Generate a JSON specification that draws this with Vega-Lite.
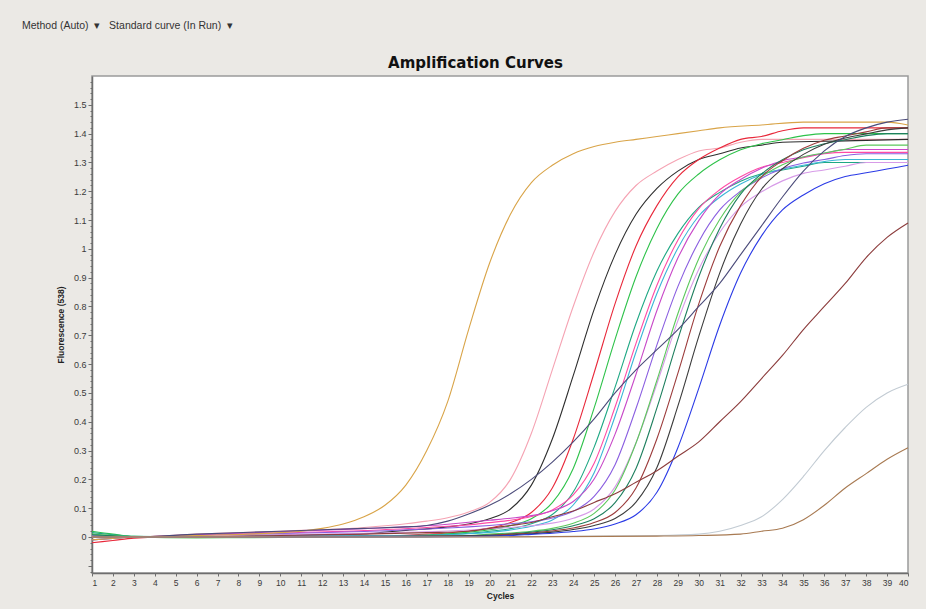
{
 "$schema": "https://vega.github.io/schema/vega-lite/v6.json",
 "width": 816,
 "height": 497,
 "autosize": {"type": "none"},
 "padding": {"left": 92, "top": 76, "right": 18, "bottom": 36},
 "background": "#ebe9e5",
 "title": {"text": "Method (Auto)\u00a0\u00a0\u25be\u00a0\u00a0\u00a0Standard curve (In Run)\u00a0\u00a0\u25be", "anchor": "start", "frame": "group", "dx": -70, "offset": 24, "font": "Liberation Sans", "fontSize": 10.5, "fontWeight": "normal", "color": "#333333"},
 "resolve": {"axis": {"y": "independent"}},
 "datasets": {
  "main": [
{"s":"a","c":1,"v":0.005},{"s":"a","c":2,"v":0.003},{"s":"a","c":3,"v":0},{"s":"a","c":6,"v":0.01},{"s":"a","c":10,"v":0.02},{"s":"a","c":14,"v":0.033},{"s":"a","c":15,"v":0.039},{"s":"a","c":16,"v":0.046},{"s":"a","c":17,"v":0.055},{"s":"a","c":18,"v":0.067},{"s":"a","c":19,"v":0.087},{"s":"a","c":20,"v":0.12},{"s":"a","c":21,"v":0.2},{"s":"a","c":22,"v":0.36},{"s":"a","c":23,"v":0.58},{"s":"a","c":24,"v":0.8},{"s":"a","c":25,"v":0.99},{"s":"a","c":26,"v":1.13},{"s":"a","c":27,"v":1.22},{"s":"a","c":28,"v":1.27},{"s":"a","c":29,"v":1.31},{"s":"a","c":30,"v":1.34},{"s":"a","c":31,"v":1.35},{"s":"a","c":32,"v":1.37},{"s":"a","c":33,"v":1.38},{"s":"a","c":36,"v":1.38},{"s":"a","c":40,"v":1.38},
{"s":"b","c":1,"v":0.005},{"s":"b","c":2,"v":0.003},{"s":"b","c":3,"v":0},{"s":"b","c":6,"v":0.003},{"s":"b","c":10,"v":0.007},{"s":"b","c":14,"v":0.011},{"s":"b","c":15,"v":0.017},{"s":"b","c":16,"v":0.023},{"s":"b","c":17,"v":0.028},{"s":"b","c":18,"v":0.035},{"s":"b","c":19,"v":0.045},{"s":"b","c":20,"v":0.063},{"s":"b","c":21,"v":0.097},{"s":"b","c":22,"v":0.18},{"s":"b","c":23,"v":0.34},{"s":"b","c":24,"v":0.56},{"s":"b","c":25,"v":0.79},{"s":"b","c":26,"v":0.98},{"s":"b","c":27,"v":1.12},{"s":"b","c":28,"v":1.21},{"s":"b","c":29,"v":1.27},{"s":"b","c":30,"v":1.31},{"s":"b","c":31,"v":1.33},{"s":"b","c":32,"v":1.35},{"s":"b","c":33,"v":1.36},{"s":"b","c":34,"v":1.37},{"s":"b","c":37,"v":1.375},{"s":"b","c":40,"v":1.38},
{"s":"c","c":1,"v":-0.02},{"s":"c","c":2,"v":-0.012},{"s":"c","c":3,"v":-0.004},{"s":"c","c":6,"v":0.002},{"s":"c","c":10,"v":0.003},{"s":"c","c":15,"v":0.003},{"s":"c","c":16,"v":0.006},{"s":"c","c":17,"v":0.01},{"s":"c","c":18,"v":0.014},{"s":"c","c":19,"v":0.021},{"s":"c","c":20,"v":0.031},{"s":"c","c":21,"v":0.05},{"s":"c","c":22,"v":0.085},{"s":"c","c":23,"v":0.17},{"s":"c","c":24,"v":0.34},{"s":"c","c":25,"v":0.57},{"s":"c","c":26,"v":0.81},{"s":"c","c":27,"v":1.01},{"s":"c","c":28,"v":1.15},{"s":"c","c":29,"v":1.25},{"s":"c","c":30,"v":1.31},{"s":"c","c":31,"v":1.35},{"s":"c","c":32,"v":1.38},{"s":"c","c":33,"v":1.39},{"s":"c","c":34,"v":1.41},{"s":"c","c":35,"v":1.42},{"s":"c","c":40,"v":1.42},
{"s":"d","c":1,"v":0.02},{"s":"d","c":2,"v":0.01},{"s":"d","c":3,"v":0.002},{"s":"d","c":6,"v":-0.002},{"s":"d","c":10,"v":0},{"s":"d","c":14,"v":0.001},{"s":"d","c":16,"v":0.004},{"s":"d","c":17,"v":0.007},{"s":"d","c":18,"v":0.011},{"s":"d","c":19,"v":0.017},{"s":"d","c":20,"v":0.025},{"s":"d","c":21,"v":0.039},{"s":"d","c":22,"v":0.063},{"s":"d","c":23,"v":0.119},{"s":"d","c":24,"v":0.238},{"s":"d","c":25,"v":0.448},{"s":"d","c":26,"v":0.686},{"s":"d","c":27,"v":0.903},{"s":"d","c":28,"v":1.071},{"s":"d","c":29,"v":1.19},{"s":"d","c":30,"v":1.26},{"s":"d","c":31,"v":1.309},{"s":"d","c":32,"v":1.344},{"s":"d","c":33,"v":1.365},{"s":"d","c":34,"v":1.379},{"s":"d","c":35,"v":1.393},{"s":"d","c":36,"v":1.4},{"s":"d","c":40,"v":1.4},
{"s":"e","c":1,"v":0.015},{"s":"e","c":2,"v":0.008},{"s":"e","c":3,"v":0.002},{"s":"e","c":6,"v":0},{"s":"e","c":10,"v":0},{"s":"e","c":14,"v":0.001},{"s":"e","c":16,"v":0.003},{"s":"e","c":17,"v":0.005},{"s":"e","c":18,"v":0.009},{"s":"e","c":19,"v":0.013},{"s":"e","c":20,"v":0.02},{"s":"e","c":21,"v":0.029},{"s":"e","c":22,"v":0.046},{"s":"e","c":23,"v":0.078},{"s":"e","c":24,"v":0.156},{"s":"e","c":25,"v":0.312},{"s":"e","c":26,"v":0.52},{"s":"e","c":27,"v":0.741},{"s":"e","c":28,"v":0.923},{"s":"e","c":29,"v":1.053},{"s":"e","c":30,"v":1.144},{"s":"e","c":31,"v":1.196},{"s":"e","c":32,"v":1.235},{"s":"e","c":33,"v":1.261},{"s":"e","c":34,"v":1.274},{"s":"e","c":35,"v":1.287},{"s":"e","c":36,"v":1.3},{"s":"e","c":40,"v":1.3},
{"s":"n","c":1,"v":0.005},{"s":"n","c":2,"v":0.003},{"s":"n","c":3,"v":0},{"s":"n","c":6,"v":0.002},{"s":"n","c":10,"v":0.004},{"s":"n","c":14,"v":0.005},{"s":"n","c":17,"v":0.006},{"s":"n","c":18,"v":0.008},{"s":"n","c":19,"v":0.011},{"s":"n","c":20,"v":0.016},{"s":"n","c":21,"v":0.024},{"s":"n","c":22,"v":0.037},{"s":"n","c":23,"v":0.059},{"s":"n","c":24,"v":0.111},{"s":"n","c":25,"v":0.223},{"s":"n","c":26,"v":0.419},{"s":"n","c":27,"v":0.642},{"s":"n","c":28,"v":0.845},{"s":"n","c":29,"v":1.002},{"s":"n","c":30,"v":1.114},{"s":"n","c":31,"v":1.179},{"s":"n","c":32,"v":1.225},{"s":"n","c":33,"v":1.258},{"s":"n","c":34,"v":1.277},{"s":"n","c":35,"v":1.29},{"s":"n","c":36,"v":1.303},{"s":"n","c":37,"v":1.31},{"s":"n","c":40,"v":1.31},
{"s":"o","c":1,"v":0.003},{"s":"o","c":2,"v":0.002},{"s":"o","c":3,"v":0},{"s":"o","c":6,"v":0.006},{"s":"o","c":10,"v":0.014},{"s":"o","c":14,"v":0.022},{"s":"o","c":17,"v":0.033},{"s":"o","c":18,"v":0.037},{"s":"o","c":19,"v":0.042},{"s":"o","c":20,"v":0.05},{"s":"o","c":21,"v":0.058},{"s":"o","c":22,"v":0.071},{"s":"o","c":23,"v":0.094},{"s":"o","c":24,"v":0.146},{"s":"o","c":25,"v":0.256},{"s":"o","c":26,"v":0.451},{"s":"o","c":27,"v":0.672},{"s":"o","c":28,"v":0.874},{"s":"o","c":29,"v":1.03},{"s":"o","c":30,"v":1.14},{"s":"o","c":31,"v":1.205},{"s":"o","c":32,"v":1.25},{"s":"o","c":33,"v":1.283},{"s":"o","c":34,"v":1.3},{"s":"o","c":35,"v":1.316},{"s":"o","c":36,"v":1.33},{"s":"o","c":37,"v":1.335},{"s":"o","c":40,"v":1.335},
{"s":"f","c":1,"v":0},{"s":"f","c":3,"v":0},{"s":"f","c":6,"v":0.008},{"s":"f","c":10,"v":0.018},{"s":"f","c":14,"v":0.029},{"s":"f","c":18,"v":0.044},{"s":"f","c":19,"v":0.051},{"s":"f","c":20,"v":0.058},{"s":"f","c":21,"v":0.065},{"s":"f","c":22,"v":0.074},{"s":"f","c":23,"v":0.091},{"s":"f","c":24,"v":0.123},{"s":"f","c":25,"v":0.201},{"s":"f","c":26,"v":0.357},{"s":"f","c":27,"v":0.565},{"s":"f","c":28,"v":0.786},{"s":"f","c":29,"v":0.968},{"s":"f","c":30,"v":1.098},{"s":"f","c":31,"v":1.189},{"s":"f","c":32,"v":1.241},{"s":"f","c":33,"v":1.28},{"s":"f","c":34,"v":1.306},{"s":"f","c":35,"v":1.319},{"s":"f","c":36,"v":1.332},{"s":"f","c":37,"v":1.345},{"s":"f","c":40,"v":1.345},
{"s":"g","c":1,"v":0.002},{"s":"g","c":2,"v":0},{"s":"g","c":3,"v":0},{"s":"g","c":6,"v":0.005},{"s":"g","c":10,"v":0.012},{"s":"g","c":14,"v":0.019},{"s":"g","c":18,"v":0.031},{"s":"g","c":19,"v":0.035},{"s":"g","c":20,"v":0.04},{"s":"g","c":21,"v":0.046},{"s":"g","c":22,"v":0.053},{"s":"g","c":23,"v":0.066},{"s":"g","c":24,"v":0.089},{"s":"g","c":25,"v":0.141},{"s":"g","c":26,"v":0.251},{"s":"g","c":27,"v":0.446},{"s":"g","c":28,"v":0.667},{"s":"g","c":29,"v":0.869},{"s":"g","c":30,"v":1.025},{"s":"g","c":31,"v":1.135},{"s":"g","c":32,"v":1.2},{"s":"g","c":33,"v":1.246},{"s":"g","c":34,"v":1.278},{"s":"g","c":35,"v":1.298},{"s":"g","c":36,"v":1.31},{"s":"g","c":37,"v":1.324},{"s":"g","c":38,"v":1.33},{"s":"g","c":40,"v":1.33},
{"s":"h","c":1,"v":0},{"s":"h","c":3,"v":0},{"s":"h","c":6,"v":0.004},{"s":"h","c":10,"v":0.008},{"s":"h","c":14,"v":0.013},{"s":"h","c":18,"v":0.021},{"s":"h","c":19,"v":0.024},{"s":"h","c":20,"v":0.029},{"s":"h","c":21,"v":0.033},{"s":"h","c":22,"v":0.039},{"s":"h","c":23,"v":0.048},{"s":"h","c":24,"v":0.065},{"s":"h","c":25,"v":0.097},{"s":"h","c":26,"v":0.174},{"s":"h","c":27,"v":0.327},{"s":"h","c":28,"v":0.532},{"s":"h","c":29,"v":0.75},{"s":"h","c":30,"v":0.929},{"s":"h","c":31,"v":1.057},{"s":"h","c":32,"v":1.146},{"s":"h","c":33,"v":1.198},{"s":"h","c":34,"v":1.236},{"s":"h","c":35,"v":1.262},{"s":"h","c":36,"v":1.274},{"s":"h","c":37,"v":1.287},{"s":"h","c":38,"v":1.3},{"s":"h","c":40,"v":1.3},
{"s":"i","c":1,"v":0.01},{"s":"i","c":2,"v":0.005},{"s":"i","c":3,"v":0},{"s":"i","c":6,"v":-0.003},{"s":"i","c":10,"v":-0.002},{"s":"i","c":14,"v":0},{"s":"i","c":18,"v":0.003},{"s":"i","c":19,"v":0.005},{"s":"i","c":20,"v":0.01},{"s":"i","c":21,"v":0.014},{"s":"i","c":22,"v":0.02},{"s":"i","c":23,"v":0.03},{"s":"i","c":24,"v":0.048},{"s":"i","c":25,"v":0.082},{"s":"i","c":26,"v":0.163},{"s":"i","c":27,"v":0.326},{"s":"i","c":28,"v":0.544},{"s":"i","c":29,"v":0.775},{"s":"i","c":30,"v":0.966},{"s":"i","c":31,"v":1.102},{"s":"i","c":32,"v":1.197},{"s":"i","c":33,"v":1.251},{"s":"i","c":34,"v":1.292},{"s":"i","c":35,"v":1.319},{"s":"i","c":36,"v":1.333},{"s":"i","c":37,"v":1.346},{"s":"i","c":38,"v":1.36},{"s":"i","c":40,"v":1.36},
{"s":"j","c":1,"v":0.008},{"s":"j","c":2,"v":0.004},{"s":"j","c":3,"v":0},{"s":"j","c":6,"v":-0.002},{"s":"j","c":10,"v":-0.002},{"s":"j","c":14,"v":0},{"s":"j","c":19,"v":0.004},{"s":"j","c":20,"v":0.007},{"s":"j","c":21,"v":0.011},{"s":"j","c":22,"v":0.017},{"s":"j","c":23,"v":0.025},{"s":"j","c":24,"v":0.039},{"s":"j","c":25,"v":0.063},{"s":"j","c":26,"v":0.119},{"s":"j","c":27,"v":0.238},{"s":"j","c":28,"v":0.448},{"s":"j","c":29,"v":0.686},{"s":"j","c":30,"v":0.903},{"s":"j","c":31,"v":1.071},{"s":"j","c":32,"v":1.19},{"s":"j","c":33,"v":1.26},{"s":"j","c":34,"v":1.309},{"s":"j","c":35,"v":1.344},{"s":"j","c":36,"v":1.365},{"s":"j","c":37,"v":1.379},{"s":"j","c":38,"v":1.393},{"s":"j","c":39,"v":1.4},{"s":"j","c":40,"v":1.4},
{"s":"k","c":1,"v":0},{"s":"k","c":3,"v":0},{"s":"k","c":6,"v":0},{"s":"k","c":10,"v":0.001},{"s":"k","c":14,"v":0.002},{"s":"k","c":19,"v":0.003},{"s":"k","c":20,"v":0.006},{"s":"k","c":21,"v":0.01},{"s":"k","c":22,"v":0.014},{"s":"k","c":23,"v":0.021},{"s":"k","c":24,"v":0.031},{"s":"k","c":25,"v":0.05},{"s":"k","c":26,"v":0.085},{"s":"k","c":27,"v":0.17},{"s":"k","c":28,"v":0.341},{"s":"k","c":29,"v":0.568},{"s":"k","c":30,"v":0.809},{"s":"k","c":31,"v":1.008},{"s":"k","c":32,"v":1.15},{"s":"k","c":33,"v":1.25},{"s":"k","c":34,"v":1.306},{"s":"k","c":35,"v":1.349},{"s":"k","c":36,"v":1.377},{"s":"k","c":37,"v":1.392},{"s":"k","c":38,"v":1.406},{"s":"k","c":39,"v":1.42},{"s":"k","c":40,"v":1.42},
{"s":"l","c":1,"v":0},{"s":"l","c":3,"v":0},{"s":"l","c":10,"v":0},{"s":"l","c":14,"v":0.001},{"s":"l","c":20,"v":0.004},{"s":"l","c":21,"v":0.007},{"s":"l","c":22,"v":0.011},{"s":"l","c":23,"v":0.017},{"s":"l","c":24,"v":0.026},{"s":"l","c":25,"v":0.04},{"s":"l","c":26,"v":0.064},{"s":"l","c":27,"v":0.121},{"s":"l","c":28,"v":0.241},{"s":"l","c":29,"v":0.454},{"s":"l","c":30,"v":0.696},{"s":"l","c":31,"v":0.916},{"s":"l","c":32,"v":1.086},{"s":"l","c":33,"v":1.207},{"s":"l","c":34,"v":1.278},{"s":"l","c":35,"v":1.328},{"s":"l","c":36,"v":1.363},{"s":"l","c":37,"v":1.385},{"s":"l","c":38,"v":1.399},{"s":"l","c":39,"v":1.413},{"s":"l","c":40,"v":1.42},
{"s":"m","c":1,"v":-0.01},{"s":"m","c":2,"v":-0.005},{"s":"m","c":3,"v":0},{"s":"m","c":6,"v":0},{"s":"m","c":10,"v":0},{"s":"m","c":14,"v":0},{"s":"m","c":18,"v":0.001},{"s":"m","c":21,"v":0.005},{"s":"m","c":22,"v":0.009},{"s":"m","c":23,"v":0.013},{"s":"m","c":24,"v":0.019},{"s":"m","c":25,"v":0.028},{"s":"m","c":26,"v":0.045},{"s":"m","c":27,"v":0.077},{"s":"m","c":28,"v":0.155},{"s":"m","c":29,"v":0.31},{"s":"m","c":30,"v":0.516},{"s":"m","c":31,"v":0.735},{"s":"m","c":32,"v":0.916},{"s":"m","c":33,"v":1.045},{"s":"m","c":34,"v":1.135},{"s":"m","c":35,"v":1.187},{"s":"m","c":36,"v":1.226},{"s":"m","c":37,"v":1.251},{"s":"m","c":38,"v":1.264},{"s":"m","c":39,"v":1.277},{"s":"m","c":40,"v":1.29},
{"s":"or","c":1,"v":-0.01},{"s":"or","c":2,"v":-0.005},{"s":"or","c":3,"v":0},{"s":"or","c":6,"v":0.005},{"s":"or","c":10,"v":0.015},{"s":"or","c":11,"v":0.02},{"s":"or","c":12,"v":0.03},{"s":"or","c":13,"v":0.045},{"s":"or","c":14,"v":0.07},{"s":"or","c":15,"v":0.11},{"s":"or","c":16,"v":0.18},{"s":"or","c":17,"v":0.3},{"s":"or","c":18,"v":0.47},{"s":"or","c":19,"v":0.72},{"s":"or","c":20,"v":0.95},{"s":"or","c":21,"v":1.12},{"s":"or","c":22,"v":1.23},{"s":"or","c":23,"v":1.29},{"s":"or","c":24,"v":1.33},{"s":"or","c":25,"v":1.355},{"s":"or","c":26,"v":1.37},{"s":"or","c":27,"v":1.38},{"s":"or","c":28,"v":1.39},{"s":"or","c":29,"v":1.4},{"s":"or","c":30,"v":1.41},{"s":"or","c":31,"v":1.42},{"s":"or","c":33,"v":1.43},{"s":"or","c":35,"v":1.44},{"s":"or","c":39,"v":1.44},{"s":"or","c":40,"v":1.43},
{"s":"p","c":1,"v":0},{"s":"p","c":3,"v":0},{"s":"p","c":6,"v":0.01},{"s":"p","c":10,"v":0.02},{"s":"p","c":14,"v":0.03},{"s":"p","c":16,"v":0.035},{"s":"p","c":17,"v":0.04},{"s":"p","c":18,"v":0.055},{"s":"p","c":19,"v":0.08},{"s":"p","c":20,"v":0.11},{"s":"p","c":21,"v":0.15},{"s":"p","c":22,"v":0.2},{"s":"p","c":23,"v":0.26},{"s":"p","c":24,"v":0.33},{"s":"p","c":25,"v":0.41},{"s":"p","c":26,"v":0.5},{"s":"p","c":27,"v":0.58},{"s":"p","c":28,"v":0.65},{"s":"p","c":29,"v":0.72},{"s":"p","c":30,"v":0.8},{"s":"p","c":31,"v":0.88},{"s":"p","c":32,"v":0.98},{"s":"p","c":33,"v":1.08},{"s":"p","c":34,"v":1.18},{"s":"p","c":35,"v":1.27},{"s":"p","c":36,"v":1.34},{"s":"p","c":37,"v":1.39},{"s":"p","c":38,"v":1.42},{"s":"p","c":39,"v":1.44},{"s":"p","c":40,"v":1.45}
  ],
  "late": [
{"s":"q","c":1,"v":0},{"s":"q","c":3,"v":0},{"s":"q","c":6,"v":0},{"s":"q","c":10,"v":0.005},{"s":"q","c":14,"v":0.01},{"s":"q","c":17,"v":0.015},{"s":"q","c":19,"v":0.02},{"s":"q","c":20,"v":0.03},{"s":"q","c":21,"v":0.04},{"s":"q","c":22,"v":0.05},{"s":"q","c":23,"v":0.07},{"s":"q","c":24,"v":0.09},{"s":"q","c":25,"v":0.12},{"s":"q","c":26,"v":0.15},{"s":"q","c":27,"v":0.19},{"s":"q","c":28,"v":0.23},{"s":"q","c":29,"v":0.28},{"s":"q","c":30,"v":0.33},{"s":"q","c":31,"v":0.4},{"s":"q","c":32,"v":0.47},{"s":"q","c":33,"v":0.55},{"s":"q","c":34,"v":0.63},{"s":"q","c":35,"v":0.72},{"s":"q","c":36,"v":0.8},{"s":"q","c":37,"v":0.88},{"s":"q","c":38,"v":0.97},{"s":"q","c":39,"v":1.04},{"s":"q","c":40,"v":1.09},
{"s":"r","c":1,"v":0},{"s":"r","c":10,"v":0},{"s":"r","c":20,"v":0},{"s":"r","c":28,"v":0.005},{"s":"r","c":30,"v":0.01},{"s":"r","c":31,"v":0.02},{"s":"r","c":32,"v":0.04},{"s":"r","c":33,"v":0.07},{"s":"r","c":34,"v":0.13},{"s":"r","c":35,"v":0.21},{"s":"r","c":36,"v":0.3},{"s":"r","c":37,"v":0.38},{"s":"r","c":38,"v":0.45},{"s":"r","c":39,"v":0.5},{"s":"r","c":40,"v":0.53},
{"s":"s","c":1,"v":0},{"s":"s","c":20,"v":0},{"s":"s","c":28,"v":0.003},{"s":"s","c":30,"v":0.005},{"s":"s","c":32,"v":0.01},{"s":"s","c":33,"v":0.02},{"s":"s","c":34,"v":0.03},{"s":"s","c":35,"v":0.06},{"s":"s","c":36,"v":0.11},{"s":"s","c":37,"v":0.17},{"s":"s","c":38,"v":0.22},{"s":"s","c":39,"v":0.27},{"s":"s","c":40,"v":0.31}
  ]
 },
 "layer": [
  {
   "data": {"name": "main"},
   "mark": {"type": "line", "interpolate": "monotone", "strokeWidth": 1.1},
   "encoding": {
    "x": {"field": "c", "type": "quantitative", "scale": {"domain": [1, 40], "nice": false, "zero": false},
      "axis": {"orient": "bottom", "title": "Cycles", "values": [1,2,3,4,5,6,7,8,9,10,11,12,13,14,15,16,17,18,19,20,21,22,23,24,25,26,27,28,29,30,31,32,33,34,35,36,37,38,39,40], "tickSize": 3, "labelOverlap": false, "labelPadding": 2, "titlePadding": 5}},
    "y": {"field": "v", "type": "quantitative", "scale": {"domain": [-0.125, 1.6], "nice": false, "zero": false},
      "axis": {"orient": "left", "title": "Fluorescence (538)", "values": [-0.12,-0.1,-0.08,-0.06,-0.04,-0.02,0,0.02,0.04,0.06,0.08,0.1,0.12,0.14,0.16,0.18,0.2,0.22,0.24,0.26,0.28,0.3,0.32,0.34,0.36,0.38,0.4,0.42,0.44,0.46,0.48,0.5,0.52,0.54,0.56,0.58,0.6,0.62,0.64,0.66,0.68,0.7,0.72,0.74,0.76,0.78,0.8,0.82,0.84,0.86,0.88,0.9,0.92,0.94,0.96,0.98,1,1.02,1.04,1.06,1.08,1.1,1.12,1.14,1.16,1.18,1.2,1.22,1.24,1.26,1.28,1.3,1.32,1.34,1.36,1.38,1.4,1.42,1.44,1.46,1.48,1.5,1.52,1.54,1.56,1.58],
        "labelExpr": "abs(datum.value*10 - round(datum.value*10)) < 0.01 && datum.value > -0.001 && datum.value < 1.51 ? format(datum.value, '~g') : ''",
        "tickSize": {"condition": {"test": "abs(datum.value*10 - round(datum.value*10)) < 0.01", "value": 4}, "value": 2},
        "labelOverlap": false, "labelPadding": 2, "labelFontSize": 9, "titlePadding": 8}},
    "color": {"field": "s", "type": "nominal", "legend": null,
      "scale": {"domain": ["a","b","c","d","e","n","o","f","g","h","i","j","k","l","m","or","p","q","r","s"],
        "range": ["#f5a3b3","#2e2e2e","#e8283a","#2ec24a","#1fa884","#3ab6d6","#ff4aa5","#c848c8","#8a5ee0","#d79be8","#5cc85c","#1e7f5e","#9c3c3c","#3c3c3c","#2a3ae6","#d9a448","#4b4b7a","#8c3c3c","#c2cbd3","#a87a52"]}}
   }
  },
  {
   "data": {"name": "late"},
   "mark": {"type": "line", "interpolate": "monotone", "strokeWidth": 1.1},
   "encoding": {
    "x": {"field": "c", "type": "quantitative",
      "axis": {"orient": "top", "title": "Amplification Curves", "titleX": 383, "titleY": -14, "titleAlign": "center", "titleBaseline": "middle", "titleAngle": 0, "titleFont": "DejaVu Sans", "titleFontSize": 15, "titleFontWeight": "bold", "titleColor": "#111111", "labels": false, "ticks": false, "domain": false, "grid": false}},
    "y": {"field": "v", "type": "quantitative", "axis": null},
    "color": {"field": "s", "type": "nominal", "legend": null}
   }
  }
 ],
 "config": {
  "view": {"fill": "white", "stroke": "#9a9a9a", "strokeWidth": 1.5},
  "axis": {"grid": false, "labelFont": "Liberation Sans", "labelFontSize": 8.5, "labelColor": "#3a3a3a", "domainColor": "#6e6e6e", "domainWidth": 1.5, "tickColor": "#6e6e6e", "titleFont": "Liberation Sans", "titleFontSize": 8.5, "titleFontWeight": "bold", "titleColor": "#222222"}
 }
}
